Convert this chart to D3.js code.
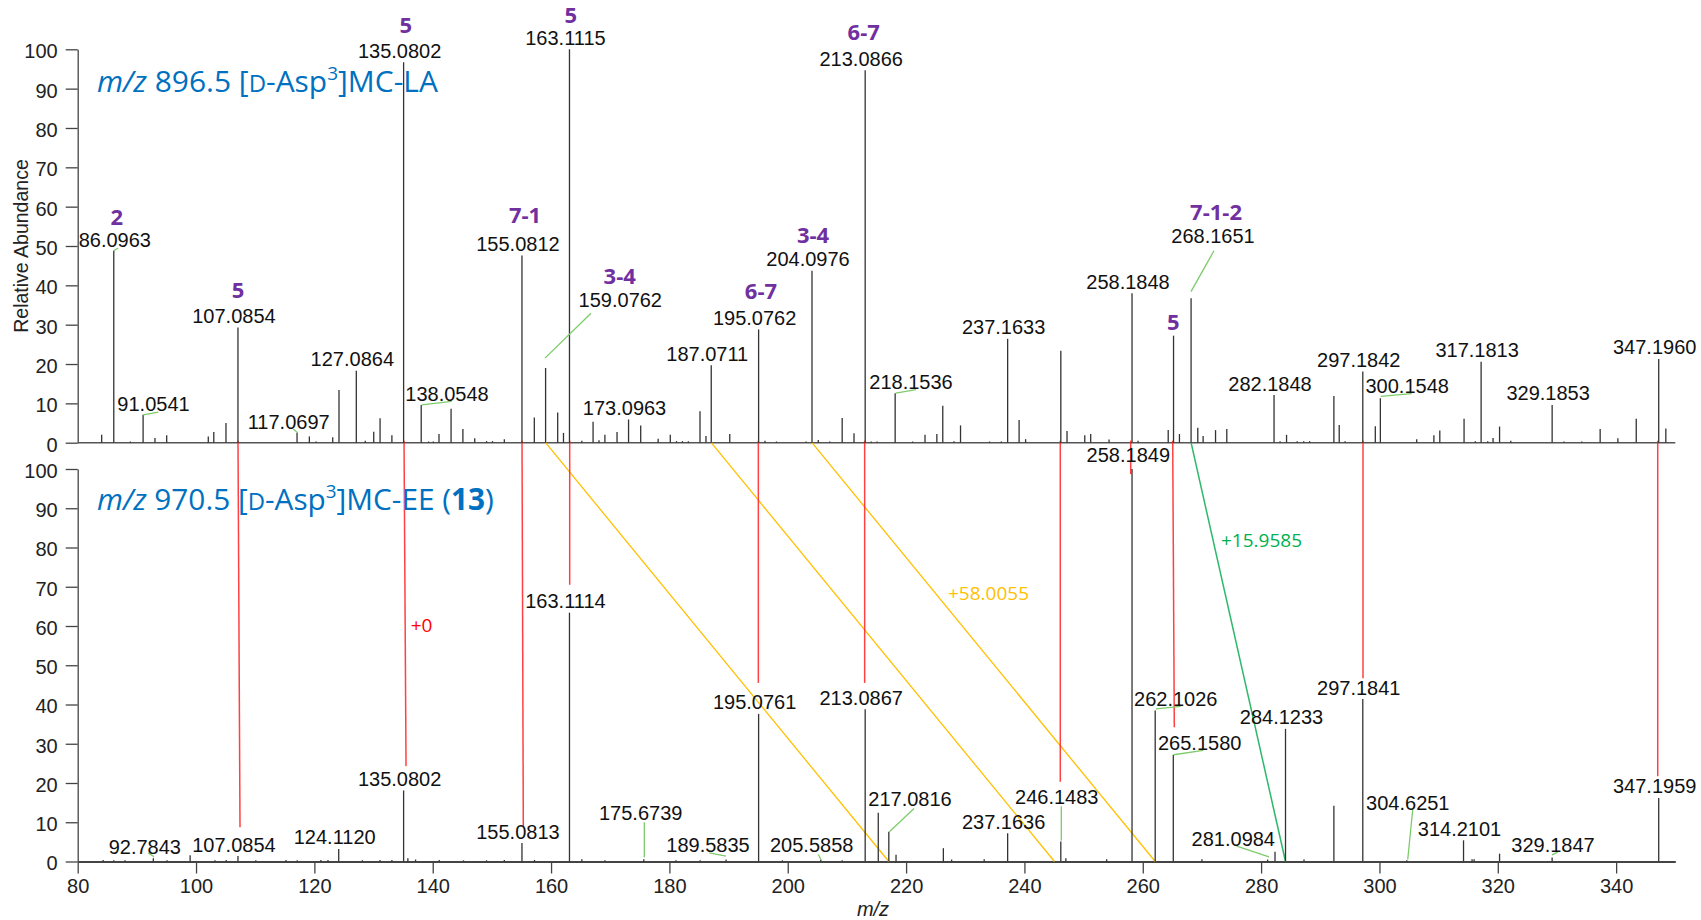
<!DOCTYPE html>
<html>
<head>
<meta charset="utf-8">
<script src="https://cdn.jsdelivr.net/npm/d3@7"></script>
<style>
  body { margin: 0; background: #fff; }
  svg { display: block; }
</style>
</head>
<body>
<svg width="1701" height="920"></svg>
<script>
// ---- data ----
// [m/z, relative abundance]
const topPeaks = [
  [84.05,2.0],[86.0963,48.8],[88.9,0.3],[91.0541,7.1],[93.06,1.2],[95.04,1.9],[102.07,1.6],[103.0,2.7],
  [105.06,5.0],[107.0854,29.3],[117.0697,2.5],[119.15,1.6],[120.3,0.3],[123.1,1.4],[124.16,13.4],
  [127.0864,18.3],[128.6,0.5],[130.03,2.8],[131.1,6.2],[133.1,1.9],[135.0802,96.7],[138.0548,9.6],
  [139.3,0.3],[140.1,0.3],[141.06,2.2],[143.1,8.6],[145.1,3.5],[147.1,1.1],[149.1,0.4],[150.1,0.4],
  [152.1,0.9],[155.0812,47.6],[157.17,6.4],[159.0762,19.0],[161.12,7.7],[162.1,2.5],[163.1115,100],
  [165.2,0.5],[167.1,5.3],[168.1,0.6],[169.1,2.0],[171.15,2.7],[173.0963,5.9],[175.15,4.4],[178.1,1.0],
  [180.15,2.0],[181.2,0.4],[182.2,0.4],[183.2,0.4],[185.17,8.0],[186.18,1.7],[187.0711,19.7],[190.2,2.2],
  [195.0762,28.8],[196.15,0.5],[198.1,0.3],[203.1,0.3],[204.0976,43.7],[205.16,0.7],[207.1,0.3],
  [209.2,6.3],[211.2,2.4],[213.0866,94.7],[214.1,0.3],[215.1,0.3],[218.1536,12.6],[221.1,0.3],
  [223.2,2.0],[225.2,2.2],[226.2,9.4],[228.1,0.4],[229.2,4.4],[234.1,0.3],[236.1,0.3],[237.1633,26.4],
  [239.1,5.8],[240.2,0.9],[246.15,23.4],[247.2,3.0],[250.2,1.9],[251.2,2.2],[254.3,0.8],[258.1848,38.0],
  [259.2,0.5],[264.3,3.2],[265.2,27.2],[266.2,2.2],[268.1651,36.7],[269.3,3.8],[270.2,1.7],[272.3,3.2],
  [274.2,3.5],[282.1848,12.1],[283.2,0.4],[284.3,2.0],[286.1,0.4],[287.2,0.4],[288.2,0.4],[292.3,11.9],
  [293.2,4.5],[294.2,0.4],[297.1842,18.1],[299.3,4.2],[300.1548,11.3],[306.3,0.9],[309.2,1.9],
  [310.2,3.1],[314.3,6.1],[316.2,0.4],[317.1813,20.6],[318.3,0.4],[319.2,1.2],[320.3,4.1],[322.2,0.5],
  [329.1853,9.6],[331.2,0.3],[334.2,0.3],[337.3,3.5],[340.3,1.1],[343.4,6.1],[347.1960,21.3],[348.4,3.6]
];
const bottomPeaks = [
  [84.3,0.4],[86.1,0.3],[88.0,0.3],[92.7843,0.8],[95.1,0.3],[99.0,1.6],[103.2,0.3],[105.1,0.4],
  [107.0854,1.4],[110.1,0.3],[115.2,0.4],[117.1,0.3],[121.1,0.4],[122.3,0.4],[124.1120,3.2],[128.1,0.3],
  [131.1,0.4],[133.1,0.4],[135.0802,18.1],[135.8,0.8],[137.1,0.5],[141.1,0.4],[145.2,0.3],[149.1,0.3],
  [152.1,0.4],[155.0813,4.7],[157.2,0.4],[163.1114,63.4],[165.2,0.6],[169.1,0.3],[175.6739,0.6],
  [181.1,0.3],[185.2,0.3],[189.5835,0.5],[195.0761,37.6],[199.1,0.3],[205.5858,0.5],[209.2,0.3],
  [213.0867,38.8],[215.3,12.4],[217.0816,7.6],[218.3,1.7],[226.3,3.4],[227.7,0.5],[233.2,0.6],
  [237.1636,7.2],[246.1483,5.1],[247.0,0.8],[253.9,0.6],[258.1849,100],[262.1026,38.5],[265.1580,27.2],
  [270.0,0.6],[281.0984,0.5],[282.35,2.5],[284.1233,33.8],[287.25,0.5],[292.3,14.2],[297.1841,41.4],
  [304.6251,0.3],[314.2101,5.4],[315.65,0.6],[316.0,0.6],[320.3,2.0],[329.1847,1.0],[347.1959,16.2]
];

// peaks that carry an m/z label
const topLabeled = [86.0963, 91.0541, 107.0854, 117.0697, 127.0864, 135.0802, 138.0548, 155.0812,
  159.0762, 163.1115, 173.0963, 187.0711, 195.0762, 204.0976, 213.0866, 218.1536, 237.1633, 258.1848,
  268.1651, 282.1848, 297.1842, 300.1548, 317.1813, 329.1853, 347.1960];
const bottomLabeled = [92.7843, 107.0854, 124.1120, 135.0802, 155.0813, 163.1114, 175.6739, 189.5835,
  195.0761, 205.5858, 213.0867, 217.0816, 237.1636, 246.1483, 258.1849, 262.1026, 265.1580, 281.0984,
  284.1233, 297.1841, 304.6251, 314.2101, 329.1847, 347.1959];

// labels that were moved away from their peak: [m/z, abundance] of the label anchor
const topLabelAt = {
  "86.0963": [86.27, 49.8], "91.0541": [92.81, 8.1], "117.0697": [115.66, 3.55],
  "138.0548": [142.41, 10.7], "159.0762": [171.7, 34.5], "218.1536": [220.83, 13.6],
  "268.1651": [271.87, 50.7], "300.1548": [304.69, 12.6]
};
const bottomLabelAt = {
  "92.7843": [91.34, 2.0], "175.6739": [175.15, 10.5], "189.5835": [186.52, 2.4],
  "205.5858": [204.05, 2.4], "217.0816": [220.66, 14.1], "246.1483": [245.46, 14.7],
  "258.1849": [257.56, 101.7], "262.1026": [265.58, 39.7], "265.1580": [269.62, 28.3],
  "281.0984": [275.3, 3.9], "304.6251": [304.79, 13.1], "329.1847": [329.33, 2.5]
};
// leader lines from label to peak
const topLeaders = [
  [[86.08,48.8],[86.86,49.5]], [[91.09,7.1],[93.62,7.8]], [[116.44,3.5],[117.18,2.5]],
  [[138.14,9.6],[143.21,10.5]], [[158.97,21.5],[166.75,32.9]], [[218.25,12.6],[221.68,13.5]],
  [[268.15,38.4],[272.04,48.8]], [[300.21,11.8],[305.45,12.5]]
];
const bottomLeaders = [
  [[91.93,2.2],[92.9,1.2]], [[175.76,10.0],[175.76,1.1]], [[186.74,2.2],[189.56,1.35]],
  [[205.16,1.8],[205.62,0.5]], [[217.17,7.6],[221.35,13.5]], [[246.23,5.3],[246.23,14.1]],
  [[262.23,38.9],[266.41,39.5]], [[265.23,27.2],[270.23,28.3]], [[275.87,3.9],[281.33,1.2]],
  [[305.62,13.2],[304.78,0.5]], [[329.17,1.7],[330.13,2.4]]
];

// fragment assignments (purple): [text, m/z, abundance]
const topIons = [
  ["2",86.59,55.3],["5",107.09,36.7],["5",135.43,104.2],["7-1",155.6,55.9],["5",163.32,106.8],
  ["3-4",171.6,40.3],["6-7",195.48,36.5],["3-4",204.27,50.7],["6-7",212.84,102.3],["5",265.16,28.7],
  ["7-1-2",272.38,56.6]
];

// same-mass links (+0): [m/z top, m/z bottom, abundance where the line stops in the lower spectrum]
const sameLinks = [
  [107.09,107.43,8.7],[135.15,135.49,24.3],[155.09,155.31,9.0],[163.15,163.15,70.5],
  [195.03,195.03,45.5],[213.0,213.0,45.5],[246.06,246.06,20.3],[257.96,257.96,98.7],
  [265.06,265.33,34.2],[297.22,297.22,46.7],[347.03,347.03,21.7]
];
// shifted links
const shift58 = 58.0055;
const shift58From = [159.0762, 187.0711, 204.0976];
const shift16 = [[268.1651, 284.1233]];

const shiftNotes = [
  {text: "+0", mz: 136.28, v: 58.5, color: "#ff0000"},
  {text: "+58.0055", mz: 227.08, v: 66.7, color: "#ffc000"},
  {text: "+15.9585", mz: 273.22, v: 80.2, color: "#00b050"}
];

const xMajor = d3.range(80, 341, 20);
const yMajor = d3.range(0, 101, 10);

// ---- scales ----
const svg = d3.select("svg");
const x = d3.scaleLinear().domain([80, 350]).range([77.7, 1675.3]);
const yTop = d3.scaleLinear().domain([0, 100]).range([442.7, 49.3]);
const yBot = d3.scaleLinear().domain([0, 100]).range([861.5, 469]);

const labelFont = "'Liberation Sans', Arial, sans-serif";
const calFont = "'Open Sans', 'Noto Sans', sans-serif";
const f4 = d3.format(".4f");

// ---- axes ----
function yAxis(scale) {
  const g = svg.append("g").attr("transform", "translate(77.7,0)");
  g.call(d3.axisLeft(scale).tickValues(d3.range(0, 101, 2)).tickSize(8.7).tickSizeOuter(0).tickFormat(""));
  g.call(d3.axisLeft(scale).tickValues(yMajor).tickSize(12).tickSizeOuter(0).tickPadding(8));
  g.selectAll("path, line").attr("stroke", "#444").attr("stroke-width", 1.3);
  g.selectAll("text").attr("dy", "0.42em").style("font-family", labelFont).style("font-size", "20px").attr("fill", "#222");
}
yAxis(yTop);
yAxis(yBot);

// top baseline (no ticks)
svg.append("line")
  .attr("x1", x(80)).attr("x2", x(350)).attr("y1", yTop(0)).attr("y2", yTop(0))
  .attr("stroke", "#555").attr("stroke-width", 1.6);

const xg = svg.append("g").attr("transform", `translate(0,${yBot(0)})`);
xg.call(d3.axisBottom(x).tickValues(d3.range(80, 351, 1)).tickSize(4).tickSizeOuter(0).tickFormat(""));
xg.call(d3.axisBottom(x).tickValues(d3.range(80, 351, 5)).tickSize(8).tickSizeOuter(0).tickFormat(""));
xg.call(d3.axisBottom(x).tickValues(xMajor).tickSize(12).tickSizeOuter(0).tickPadding(5));
xg.selectAll("path, line").attr("stroke", "#444").attr("stroke-width", 1.3);
xg.select("path.domain").attr("stroke-width", 1.8);
xg.selectAll("text").style("font-family", labelFont).style("font-size", "20px").attr("fill", "#222");

svg.append("text")
  .attr("transform", `translate(28,${(yTop(0) + yTop(100)) / 2}) rotate(-90)`)
  .attr("text-anchor", "middle")
  .style("font-family", labelFont).style("font-size", "19.5px").attr("fill", "#222")
  .text("Relative Abundance");

svg.append("text")
  .attr("x", 873).attr("y", 916)
  .attr("text-anchor", "middle")
  .style("font-family", labelFont).style("font-size", "20px").style("font-style", "italic").attr("fill", "#222")
  .text("m/z");

// ---- titles ----
function title(parts, px, py, width) {
  const t = svg.append("text").attr("x", 0).attr("y", 0)
    .attr("fill", "#0070c0").style("font-family", calFont).style("font-size", "30px");
  parts.forEach(p => {
    const s = t.append("tspan").text(p.t);
    if (p.i) s.style("font-style", "italic");
    if (p.b) s.style("font-weight", "bold");
    if (p.sc) s.style("font-size", "24px");
    if (p.sup) s.style("font-size", "19px").attr("dy", -12);
    if (p.down) s.attr("dy", 12);
  });
  const w = t.node().getBBox().width;
  t.attr("transform", `translate(${px},${py}) scale(${width / w},1)`);
}

// ---- connecting lines between the spectra ----
const links = svg.append("g");
shift58From.forEach(m => {
  links.append("line")
    .attr("x1", x(m)).attr("y1", yTop(0)).attr("x2", x(m + shift58)).attr("y2", yBot(0))
    .attr("stroke", "#ffc000").attr("stroke-width", 1.3);
});
shift16.forEach(([a, b]) => {
  links.append("line")
    .attr("x1", x(a)).attr("y1", yTop(0)).attr("x2", x(b)).attr("y2", yBot(0))
    .attr("stroke", "#2db86a").attr("stroke-width", 1.5);
});
sameLinks.forEach(([a, b, v]) => {
  links.append("line")
    .attr("x1", x(a)).attr("y1", yTop(0) - 2).attr("x2", x(b)).attr("y2", yBot(v))
    .attr("stroke", "#ff2020").attr("stroke-opacity", 0.85).attr("stroke-width", 1.5);
});

title([{t: "m/z", i: true}, {t: " 896.5 ["}, {t: "D", sc: true}, {t: "-Asp"}, {t: "3", sup: true},
       {t: "]MC-LA", down: true}], 97, 92, 341);
title([{t: "m/z", i: true}, {t: " 970.5 ["}, {t: "D", sc: true}, {t: "-Asp"}, {t: "3", sup: true},
       {t: "]MC-EE (", down: true}, {t: "13", b: true}, {t: ")"}], 97, 510, 397);

// ---- spectra ----
function drawPeaks(peaks, y) {
  svg.append("g").selectAll("line").data(peaks).enter().append("line")
    .attr("x1", d => x(d[0])).attr("x2", d => x(d[0]))
    .attr("y1", y(0)).attr("y2", d => y(d[1]))
    .attr("stroke", "#333").attr("stroke-width", 1.3);
}
drawPeaks(topPeaks, yTop);
drawPeaks(bottomPeaks, yBot);

function drawLeaders(list, y) {
  svg.append("g").selectAll("line").data(list).enter().append("line")
    .attr("x1", d => x(d[0][0])).attr("y1", d => y(d[0][1]))
    .attr("x2", d => x(d[1][0])).attr("y2", d => y(d[1][1]))
    .attr("stroke", "#7dcc6a").attr("stroke-width", 1.3);
}
drawLeaders(topLeaders, yTop);
drawLeaders(bottomLeaders, yBot);

function drawLabels(labeled, peaks, at, y) {
  svg.append("g").selectAll("text").data(labeled).enter().append("text")
    .attr("x", m => at[f4(m)] ? x(at[f4(m)][0]) : x(m) - 4)
    .attr("y", m => {
      if (at[f4(m)]) return y(at[f4(m)][1]);
      const p = peaks.find(d => d[0] === m);
      return y(p[1]) - 4.5;
    })
    .attr("text-anchor", "middle")
    .style("font-family", labelFont).style("font-size", "20px").attr("fill", "#111")
    .text(m => f4(m));
}
drawLabels(topLabeled, topPeaks, topLabelAt, yTop);
drawLabels(bottomLabeled, bottomPeaks, bottomLabelAt, yBot);

svg.append("g").selectAll("text").data(topIons).enter().append("text")
  .attr("x", d => x(d[1])).attr("y", d => yTop(d[2]))
  .attr("text-anchor", "middle")
  .style("font-family", calFont).style("font-size", "22px").style("font-weight", "bold")
  .attr("fill", "#7030a0")
  .text(d => d[0]);

svg.append("g").selectAll("text").data(shiftNotes).enter().append("text")
  .attr("x", d => x(d.mz)).attr("y", d => yBot(d.v))
  .style("font-family", calFont).style("font-size", "19px")
  .attr("fill", d => d.color)
  .text(d => d.text);
</script>
</body>
</html>
